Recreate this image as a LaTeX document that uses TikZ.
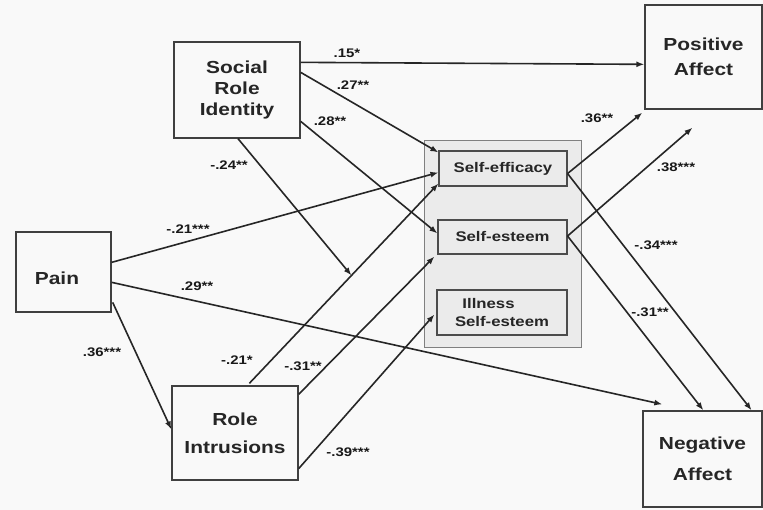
\documentclass[tikz,border=0pt]{standalone}
\usepackage{fontspec}
\setmainfont[FakeStretch=1.2]{Liberation Sans}
\usetikzlibrary{arrows.meta,calc}
\begin{document}
\begin{tikzpicture}[x=1bp,y=-1bp,
  big/.style={draw=black!75, line width=1.3bp, align=center, inner sep=0pt, text=black!85,
              font=\fontsize{17.5}{21}\selectfont\bfseries},
  mid/.style={draw=black!70, line width=1.1bp, align=center, inner sep=0pt, text=black!85,
              font=\fontsize{14}{18}\selectfont\bfseries},
  lab/.style={inner sep=0pt, text=black!90, font=\fontsize{12.5}{14}\selectfont\bfseries},
  arr/.style={draw=black!85, line width=1.6bp, -{Latex[length=8bp,width=6bp]}},
  ln/.style={draw=black!85, line width=1.6bp}
]
\useasboundingbox (0,0) rectangle (763,510);
\fill[gray!5] (0,0) rectangle (763,510);

% group box
\node[draw=black!50, line width=0.8bp, fill=gray!16, minimum width=157bp, minimum height=207bp, inner sep=0pt] (grp) at (502.5,243.5) {};

% main nodes
\node[big, minimum width=126bp, minimum height=96bp] (SRI) at (237,90) {Social\\Role\\Identity};
\node[big, minimum width=117bp, minimum height=104bp, font=\fontsize{17.5}{25}\selectfont\bfseries] (PA) at (703.5,57) {Positive\\Affect};
\node[big, minimum width=95bp, minimum height=80bp, text height=29bp, text depth=4bp] (Pain) at (63.5,272) {Pain\hspace*{13bp}};
\node[big, minimum width=126bp, minimum height=94bp, font=\fontsize{17.5}{28}\selectfont\bfseries] (RI) at (235,433) {Role\\Intrusions};
\node[big, minimum width=119bp, minimum height=96bp, font=\fontsize{17.5}{31}\selectfont\bfseries] (NA) at (702.5,459) {Negative\\Affect};

% mediators
\node[mid, minimum width=128bp, minimum height=35bp] (SE) at (503,168.5) {Self-efficacy};
\node[mid, minimum width=129bp, minimum height=34bp] (SEs) at (502.5,237) {Self-esteem};
\node[mid, minimum width=130bp, minimum height=45bp] (ISE) at (502,312.5) {Illness\hspace*{27bp}\\Self-esteem};

% connectors
\draw[arr] ($(SRI.north east)+(0,21)$) -- ($(PA.north west)+(0,60)$);
\draw[arr] ($(SRI.north east)+(0,31)$) -- ($(SE.north west)+(0,2)$);
\draw[arr] ($(SRI.north east)+(0,80)$) -- ($(SEs.north west)+(0,14)$);
\draw[arr] ($(Pain.north east)+(0,31)$) -- ($(SE.north west)+(0,22)$);
\draw[arr] ($(Pain.north east)+(0,51)$) -- ($(NA.north west)+(20,-6)$);
\draw[arr] ($(Pain.north east)+(1,71)$) -- ($(RI.north west)+(0,44)$);
\draw[arr] ($(RI.north west)+(78,-2)$) -- coordinate[pos=0.54] (mod) ($(SE.south west)+(0,-3)$);
\draw[arr] ($(SRI.south)+(1,0)$) -- (mod);
\draw[arr] ($(RI.north east)+(0,9)$) -- ($(SEs.south west)+(-3,2)$);
\draw[arr] ($(RI.south east)+(0,-12)$) -- ($(ISE.west)+(-2,2)$);
\coordinate (SEout) at ($(SE.south east)+(0,-13)$);
\coordinate (SEsout) at ($(SEs.east)+(0,-1)$);
\coordinate (PAfree) at ($(PA.south)+(-11,18)$);
\draw[arr] (SEout) -- ($(PA.south west)+(-2,3)$);
\draw[arr] (SEsout) -- (PAfree);
\draw[arr] (SEout) -- ($(NA.north east)+(-11,0)$);
\draw[arr] (SEsout) -- ($(NA.north west)+(61,0)$);

% labels
\node[lab] (l1) at (347,53) {.15*};
\node[lab] (l2) at (353,85) {.27**};
\node[lab] (l3) at (330,121) {.28**};
\node[lab] (l4) at (229,165) {-.24**};
\node[lab] (l5) at (188,229) {-.21***};
\node[lab] (l6) at (197,286) {.29**};
\node[lab] (l7) at (102,352) {.36***};
\node[lab] (l8) at (237,360) {-.21*};
\node[lab] (l9) at (303,366) {-.31**};
\node[lab] (l10) at (348,452) {-.39***};
\node[lab] (l11) at (597,118) {.36**};
\node[lab] (l12) at (676,167) {.38***};
\node[lab] (l13) at (656,245) {-.34***};
\node[lab] (l14) at (650,312) {-.31**};
\end{tikzpicture}
\end{document}
